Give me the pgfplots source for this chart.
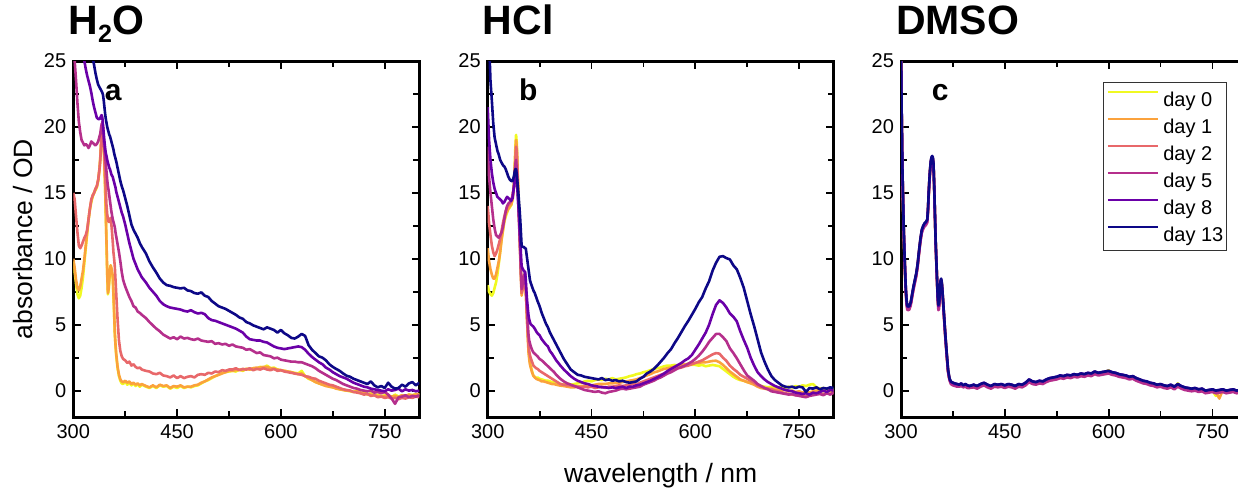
\documentclass[border=0pt]{standalone}
\usepackage{fontspec}
\setmainfont{Liberation Sans}
\usepackage{pgfplots}
\pgfplotsset{compat=1.18}
\usepackage{pgfplotstable}

\definecolor{c0}{HTML}{F0F921}
\definecolor{c1}{HTML}{FBA23C}
\definecolor{c2}{HTML}{E8686A}
\definecolor{c5}{HTML}{B52F8C}
\definecolor{c8}{HTML}{6A00A8}
\definecolor{c13}{HTML}{0D0887}

\pgfplotstableread{
x d0 d1 d2 d5 d8 d13
300 9.8 10.0 15.0 26.5 32 40
302 9.0 9.3 14.5 25.0 30.8 38.8
304 8.1 8.4 13.2 23.5 29.6 37.6
306 7.3 7.8 12.0 21.8 28.4 36.4
308 7.0 7.6 11.0 20.4 27.6 35.2
310 7.2 7.9 10.8 19.6 26.8 34.0
312 7.8 8.5 11.0 19.0 26.0 33.0
314 8.6 9.1 11.3 18.8 25.4 31.8
316 9.7 10.0 11.6 18.6 25.0 30.7
318 10.8 11.0 11.8 18.7 24.4 29.6
320 11.9 12.0 12.2 18.6 23.9 28.6
322 12.9 13.0 13.0 18.4 23.5 27.7
324 13.7 13.8 13.8 18.6 23.1 26.8
326 14.3 14.4 14.5 18.9 22.6 26.0
328 14.7 14.8 14.8 18.8 22.0 25.3
330 15.0 15.0 15.0 18.7 21.5 24.7
332 15.2 15.3 15.3 18.6 21.1 24.1
334 15.4 15.5 15.5 18.7 20.7 23.6
336 15.9 16.0 16.0 18.9 20.6 23.2
338 16.8 16.9 16.9 19.3 20.6 23.0
339 17.6 17.7 17.5 19.5 20.7 22.9
340 18.6 18.6 18.5 19.9 20.8 22.8
341 19.6 19.5 19.6 20.2 20.9 22.7
342 20.3 20.3 20.4 20.3 20.7 22.6
343 19.8 19.9 19.9 19.6 20.1 22.4
344 18.5 18.6 19.0 18.9 19.5 22.0
345 17.0 17.1 17.8 18.4 18.9 21.5
346 15.3 15.5 16.5 17.8 18.4 21.0
347 13.2 13.4 15.2 17.2 18.0 20.6
348 11.0 11.2 14.0 16.6 17.8 20.3
349 8.8 9.0 13.4 16.0 17.5 20.0
350 7.3 7.4 13.0 15.5 17.3 19.8
351 7.6 7.7 12.8 15.2 17.1 19.6
352 8.3 8.4 12.8 14.8 16.9 19.4
353 9.1 9.2 13.0 14.4 16.8 19.3
354 9.5 9.5 13.1 14.0 16.6 19.1
355 9.2 9.3 12.6 13.6 16.4 18.9
356 8.9 9.0 12.0 13.3 16.3 18.7
357 8.6 8.7 11.3 13.0 16.2 18.5
358 7.2 7.4 10.5 12.8 16.0 18.3
359 5.8 6.0 10.0 12.6 15.8 18.0
360 4.3 4.4 9.4 12.4 15.6 17.8
361 3.4 3.5 8.4 12.0 15.4 17.6
362 2.7 2.8 7.4 11.7 15.1 17.4
364 1.7 1.8 5.4 11.1 14.7 16.9
366 1.1 1.2 3.8 10.5 14.3 16.4
368 0.75 0.85 3.0 9.8 13.9 15.9
370 0.55 0.7 2.6 9.0 13.5 15.5
372 0.5 0.63 2.4 8.4 13.2 15.2
375 0.7 0.75 2.3 7.9 12.6 14.6
378 0.45 0.6 2.1 7.5 11.9 14.0
381 0.6 0.7 2.2 7.1 11.2 13.3
384 0.4 0.5 1.9 6.8 10.6 12.6
387 0.55 0.6 2.0 6.4 10.0 12.2
390 0.35 0.45 1.8 6.3 9.6 11.9
393 0.5 0.55 1.7 6.0 9.2 11.6
396 0.3 0.4 1.75 5.9 8.9 11.2
399 0.45 0.5 1.6 5.75 8.6 10.9
405 0.3 0.35 1.5 5.5 8.2 10.4
410 0.2 0.25 1.45 5.2 7.8 9.8
415 0.35 0.4 1.3 4.95 7.5 9.35
420 0.2 0.25 1.25 4.7 7.2 8.95
425 0.4 0.45 1.35 4.5 6.8 8.5
430 0.3 0.35 1.15 4.25 6.55 8.2
435 0.35 0.4 1.1 4.1 6.4 8.0
440 0.15 0.2 1.0 3.95 6.3 7.95
445 0.3 0.35 1.15 4.05 6.25 7.85
450 0.2 0.3 0.95 3.9 6.2 7.8
455 0.35 0.4 1.1 4.1 6.15 7.75
460 0.2 0.25 0.95 3.95 6.05 7.8
465 0.3 0.3 1.05 4.0 6.0 7.6
470 0.25 0.3 1.1 3.9 6.1 7.55
475 0.35 0.4 1.0 3.85 5.95 7.4
480 0.4 0.45 1.2 3.95 5.85 7.35
485 0.55 0.6 1.25 3.8 5.9 7.45
490 0.7 0.7 1.2 3.75 5.8 7.2
495 0.8 0.85 1.35 3.7 5.5 7.1
500 0.95 1.0 1.3 3.75 5.35 6.8
505 1.1 1.1 1.45 3.55 5.3 6.6
510 1.2 1.2 1.4 3.6 5.2 6.4
515 1.35 1.3 1.55 3.5 5.1 6.3
520 1.4 1.4 1.5 3.55 5.0 6.2
525 1.45 1.5 1.6 3.4 4.9 6.05
530 1.5 1.5 1.6 3.5 4.8 5.9
535 1.45 1.55 1.7 3.35 4.7 5.75
540 1.6 1.6 1.55 3.3 4.55 5.55
545 1.5 1.55 1.65 3.25 4.4 5.45
550 1.65 1.65 1.6 3.1 4.1 5.2
555 1.6 1.6 1.7 3.15 3.9 5.1
560 1.7 1.7 1.55 3.0 3.85 4.95
565 1.65 1.75 1.65 2.85 3.8 4.85
570 1.8 1.75 1.6 2.9 3.8 4.75
575 1.75 1.8 1.7 2.7 3.7 4.65
580 1.9 1.8 1.6 2.65 3.65 4.8
585 1.7 1.7 1.55 2.6 3.5 4.7
590 1.75 1.65 1.65 2.45 3.35 4.6
595 1.6 1.6 1.5 2.5 3.25 4.4
600 1.55 1.55 1.55 2.35 3.2 4.6
605 1.5 1.5 1.45 2.3 3.15 4.35
610 1.45 1.45 1.4 2.25 3.2 4.2
615 1.4 1.4 1.35 2.2 3.25 4.0
620 1.35 1.3 1.3 2.2 3.3 3.95
625 1.3 1.25 1.25 2.15 3.35 4.1
630 1.5 1.3 1.2 2.15 3.3 4.3
635 1.1 1.1 1.1 2.05 3.1 4.15
640 0.9 0.95 1.05 1.95 2.8 3.45
645 0.8 0.8 0.95 1.85 2.55 3.1
650 0.65 0.65 0.9 1.7 2.35 2.85
655 0.55 0.55 0.75 1.5 2.15 2.6
660 0.45 0.45 0.65 1.35 2.0 2.5
665 0.4 0.35 0.55 1.2 1.75 2.3
670 0.3 0.3 0.45 1.05 1.6 2.0
675 0.25 0.25 0.4 0.9 1.4 1.8
680 0.2 0.15 0.3 0.8 1.25 1.64
685 0.1 0.1 0.2 0.65 1.1 1.5
690 0.05 0.05 0.1 0.5 1.0 1.3
695 0.0 0.0 0.05 0.4 0.9 1.13
700 -0.05 0.0 0.0 0.3 0.75 1.05
705 -0.1 -0.1 -0.1 0.2 0.6 0.9
710 0.0 -0.05 -0.15 0.15 0.5 0.8
715 -0.2 -0.15 -0.2 0.05 0.4 0.7
720 -0.1 -0.2 -0.3 0.0 0.3 0.6
725 -0.3 -0.25 -0.25 -0.05 0.25 0.5
730 -0.2 -0.3 -0.4 0.0 0.15 0.7
735 -0.35 -0.35 -0.35 -0.15 0.1 0.4
740 -0.3 -0.4 -0.5 -0.1 0.05 0.25
745 -0.45 -0.4 -0.45 -0.2 0.0 0.35
750 -0.35 -0.45 -0.55 -0.1 -0.05 0.2
755 -0.4 -0.35 -0.5 -0.3 0.1 0.6
760 -0.5 -0.45 -0.6 -0.6 0.0 0.3
765 -0.3 -0.4 -0.55 -1.0 0.05 0.15
770 -0.45 -0.5 -0.65 -0.5 0.15 0.2
775 -0.35 -0.35 -0.55 -0.45 -0.05 0.45
780 -0.4 -0.45 -0.6 -0.35 0.1 0.3
785 -0.3 -0.3 -0.5 -0.5 0.0 0.55
790 -0.35 -0.35 -0.55 -0.4 0.05 0.65
795 -0.25 -0.3 -0.45 -0.45 -0.05 0.4
800 -0.3 -0.25 -0.5 -0.35 0.0 0.6
}\tabA

\pgfplotstableread{
x d0 d1 d2 d5 d8 d13
300 8.0 10.8 14.0 18.5 21.5 30.0
302 7.5 9.8 12.7 16.2 19.0 26.5
304 7.3 9.2 11.8 15.0 17.5 23.5
306 7.2 8.8 11.0 14.0 16.5 22.0
308 7.4 8.5 10.5 13.0 15.8 20.3
310 7.8 8.5 10.2 12.3 15.3 19.2
312 8.2 8.8 10.4 11.8 15.0 18.7
314 8.8 9.3 10.7 11.7 14.7 18.2
316 9.6 9.8 11.1 11.6 14.6 17.9
318 10.5 10.5 11.5 11.8 14.5 17.5
320 11.5 11.4 12.1 12.0 14.4 17.3
322 12.1 12.2 12.7 12.4 14.2 17.1
324 12.8 12.9 13.2 13.0 14.3 17.0
326 13.2 13.4 13.6 13.6 14.5 16.8
328 13.5 13.6 13.9 14.0 14.7 16.5
330 13.8 13.8 14.1 14.2 14.6 16.2
332 13.9 14.0 14.2 14.3 14.5 16.0
334 14.1 14.1 14.4 14.4 14.4 15.9
336 14.5 14.5 14.8 14.8 14.6 15.9
338 15.8 15.5 15.5 15.5 15.5 16.3
339 17.0 16.7 16.4 16.3 16.1 16.6
340 18.5 18.0 17.5 17.2 16.8 16.8
341 19.4 19.0 18.5 17.5 16.6 16.8
342 18.8 18.5 18.2 16.8 16.0 16.4
343 17.2 16.9 16.6 15.6 15.2 15.8
344 15.7 15.3 15.0 14.4 14.3 15.2
345 14.0 13.6 13.6 13.2 13.5 14.5
346 12.3 11.9 12.0 11.8 12.4 13.8
347 10.8 10.2 10.5 10.5 11.5 13.0
348 9.0 8.6 8.9 9.0 10.4 12.0
349 7.7 7.2 7.4 7.7 9.45 11.0
350 7.8 7.5 7.6 7.9 9.3 10.9
351 8.2 7.9 8.0 8.3 9.2 10.9
352 8.5 8.3 8.2 8.6 9.1 10.9
353 8.6 8.5 8.3 8.8 9.05 10.85
354 8.7 8.7 8.4 9.0 9.0 10.8
355 7.8 7.7 7.6 8.1 8.4 10.8
356 6.5 6.5 6.5 7.0 7.5 10.4
357 5.3 5.2 5.3 6.0 6.8 10.0
358 4.2 4.0 4.3 5.0 6.2 9.6
359 3.15 2.9 3.4 4.2 5.7 9.2
360 2.6 2.4 3.0 3.8 5.4 8.8
361 2.2 2.0 2.7 3.6 5.2 8.4
362 1.9 1.8 2.5 3.4 5.05 8.2
364 1.5 1.4 2.2 3.1 4.95 7.9
366 1.13 1.13 1.9 2.9 4.85 7.6
368 1.05 1.0 1.8 2.8 4.7 7.4
370 0.95 0.9 1.7 2.7 4.5 7.1
372 1.0 0.85 1.65 2.6 4.35 6.8
375 0.9 0.8 1.5 2.4 4.2 6.4
378 0.85 0.7 1.4 2.3 3.9 5.9
381 0.8 0.7 1.3 2.15 3.7 5.5
384 0.75 0.65 1.2 2.0 3.5 5.1
387 0.75 0.6 1.1 1.85 3.35 4.8
390 0.7 0.55 1.0 1.7 3.0 4.4
393 0.65 0.5 0.9 1.55 2.8 4.1
396 0.6 0.5 0.8 1.4 2.55 3.8
399 0.55 0.45 0.7 1.2 2.3 3.5
405 0.5 0.38 0.5 0.9 1.9 2.9
410 0.45 0.35 0.45 0.7 1.6 2.4
415 0.55 0.3 0.4 0.55 1.35 2.0
420 0.45 0.25 0.4 0.45 1.1 1.6
425 0.5 0.25 0.35 0.35 0.9 1.4
430 0.55 0.3 0.3 0.25 0.75 1.2
435 0.6 0.35 0.25 0.15 0.65 1.15
440 0.7 0.35 0.3 0.05 0.55 1.05
445 0.75 0.4 0.25 0.0 0.5 1.0
450 0.7 0.4 0.3 -0.05 0.4 0.95
455 0.8 0.45 0.2 -0.1 0.35 0.9
460 0.85 0.5 0.25 -0.05 0.3 0.85
465 0.8 0.5 0.3 -0.15 0.25 0.95
470 0.9 0.5 0.2 -0.2 0.25 0.8
475 0.85 0.55 0.3 -0.1 0.2 0.85
480 0.95 0.55 0.3 -0.05 0.25 0.75
485 0.85 0.6 0.35 0.0 0.2 0.8
490 0.9 0.6 0.4 0.1 0.25 0.7
495 0.95 0.65 0.35 0.15 0.3 0.75
500 1.0 0.7 0.4 0.1 0.2 0.65
505 1.1 0.75 0.45 0.15 0.3 0.6
510 1.15 0.8 0.5 0.2 0.3 0.65
515 1.25 0.85 0.45 0.25 0.4 0.7
520 1.3 0.95 0.6 0.3 0.45 0.9
525 1.4 1.05 0.7 0.45 0.55 1.05
530 1.45 1.15 0.8 0.55 0.65 1.3
535 1.55 1.25 0.9 0.65 0.75 1.45
540 1.65 1.38 1.0 0.75 0.88 1.64
545 1.7 1.45 1.1 0.9 1.0 1.9
550 1.75 1.55 1.2 1.0 1.15 2.2
555 1.85 1.65 1.3 1.15 1.3 2.5
560 1.9 1.7 1.4 1.3 1.5 2.85
565 1.9 1.76 1.5 1.4 1.65 3.15
570 1.95 1.8 1.6 1.55 1.8 3.6
575 1.9 1.9 1.7 1.7 1.95 4.0
580 2.0 1.95 1.75 1.8 2.1 4.45
585 1.95 2.0 1.85 1.9 2.3 4.9
590 2.05 2.0 1.9 2.05 2.45 5.3
595 1.95 2.05 2.0 2.2 2.7 5.75
600 1.95 2.1 2.1 2.4 3.1 6.2
605 1.9 2.1 2.2 2.65 3.5 6.7
610 1.95 2.15 2.3 2.95 3.95 7.1
615 1.85 2.15 2.45 3.3 4.4 7.75
620 1.9 2.2 2.6 3.7 5.0 8.3
625 1.95 2.25 2.75 4.0 5.8 9.1
630 1.9 2.27 2.85 4.3 6.5 9.7
635 1.85 2.15 2.8 4.3 6.85 10.15
640 1.65 1.95 2.5 4.05 6.65 10.2
645 1.45 1.7 2.25 3.75 6.3 10.05
650 1.25 1.45 1.9 3.2 5.85 9.95
655 1.05 1.25 1.65 2.85 5.6 9.5
660 0.9 1.05 1.45 2.45 5.25 9.2
665 0.8 0.85 1.2 2.0 4.5 8.55
670 0.75 0.75 1.05 1.55 3.85 7.8
675 0.65 0.65 0.9 1.15 3.25 6.8
680 0.6 0.55 0.75 0.95 2.5 5.8
685 0.5 0.45 0.6 0.75 1.9 4.9
690 0.4 0.3 0.4 0.5 1.4 3.9
695 0.35 0.2 0.3 0.35 1.1 2.9
700 0.3 0.15 0.2 0.2 0.85 2.2
705 0.25 0.1 0.15 0.1 0.65 1.6
710 0.3 0.15 0.1 -0.05 0.5 1.1
715 0.2 0.05 0.0 -0.1 0.35 0.8
720 0.25 0.1 -0.05 -0.15 0.25 0.6
725 0.3 0.0 -0.15 -0.2 0.15 0.4
730 0.2 0.05 -0.2 -0.25 0.05 0.3
735 0.3 -0.05 -0.25 -0.3 0.0 0.25
740 0.25 0.0 -0.3 -0.25 -0.05 0.3
745 0.35 -0.1 -0.35 -0.35 -0.15 0.2
750 0.3 -0.05 -0.3 -0.4 -0.2 0.3
755 0.4 -0.15 -0.45 -0.45 -0.25 0.25
760 0.35 -0.1 -0.4 -0.5 -0.2 -0.1
765 0.45 -0.15 -0.35 -0.4 -0.3 0.2
770 0.5 -0.05 -0.3 -0.35 -0.15 0.15
775 0.25 0.0 -0.25 -0.3 -0.2 0.25
780 0.15 0.05 -0.2 -0.25 -0.1 0.1
785 0.2 -0.05 -0.3 -0.35 0.0 0.2
790 0.1 0.0 -0.2 -0.2 -0.1 0.15
795 0.15 -0.05 -0.25 -0.3 0.05 0.25
800 0.1 0.0 -0.15 -0.15 0.0 0.2
}\tabB

\pgfplotstableread{
x d0 d1 d2 d5 d8 d13
300 25.5 25.5 25.4 25.3 25.5 25.5
301 20.8 20.9 20.8 20.6 21.0 21.0
302 16.8 16.9 16.8 16.6 17.0 17.0
303 14.3 14.4 14.3 14.1 14.5 14.5
304 12.0 12.1 12.0 11.8 12.2 12.2
305 10.3 10.4 10.3 10.1 10.5 10.5
306 8.8 8.9 8.8 8.6 9.0 9.0
307 7.5 7.6 7.5 7.3 7.7 7.7
308 6.7 6.8 6.7 6.5 6.9 6.9
309 6.3 6.35 6.3 6.15 6.4 6.45
310 6.25 6.3 6.25 6.1 6.35 6.4
312 6.3 6.3 6.25 6.15 6.4 6.4
314 6.6 6.6 6.55 6.45 6.65 6.7
316 7.2 7.2 7.15 7.05 7.25 7.3
318 7.8 7.8 7.75 7.65 7.85 7.9
320 8.3 8.3 8.25 8.15 8.35 8.4
322 8.8 8.8 8.75 8.65 8.85 8.9
324 9.5 9.5 9.45 9.35 9.55 9.6
326 10.5 10.5 10.45 10.35 10.55 10.6
328 11.4 11.4 11.35 11.25 11.45 11.5
330 12.1 12.1 12.05 11.95 12.15 12.2
332 12.4 12.4 12.35 12.25 12.45 12.5
334 12.6 12.6 12.55 12.45 12.65 12.7
336 12.7 12.7 12.65 12.55 12.75 12.8
338 12.9 12.9 12.85 12.75 12.95 13.0
339 13.7 13.7 13.65 13.55 13.75 13.8
340 14.9 14.9 14.85 14.75 14.95 15.0
341 15.9 15.9 15.85 15.75 15.95 16.0
342 16.7 16.7 16.65 16.55 16.75 16.8
343 17.3 17.3 17.25 17.15 17.35 17.4
344 17.6 17.6 17.55 17.45 17.65 17.7
345 17.7 17.7 17.65 17.55 17.75 17.8
346 17.6 17.6 17.55 17.45 17.65 17.7
347 17.1 17.1 17.05 16.95 17.15 17.2
348 15.4 15.4 15.35 15.25 15.45 15.5
349 13.4 13.4 13.35 13.25 13.45 13.5
350 11.4 11.4 11.35 11.25 11.45 11.5
351 9.9 9.9 9.85 9.75 9.95 10.0
352 8.5 8.5 8.45 8.35 8.55 8.6
353 7.1 7.1 7.05 6.95 7.15 7.2
354 6.3 6.35 6.3 6.1 6.4 6.5
355 6.4 6.45 6.4 6.2 6.5 6.6
356 7.3 7.3 7.25 7.15 7.35 7.4
357 8.2 8.2 8.15 8.05 8.25 8.3
358 8.4 8.4 8.35 8.25 8.45 8.5
359 8.1 8.1 8.05 7.95 8.15 8.2
360 7.4 7.4 7.35 7.25 7.45 7.5
361 6.6 6.6 6.55 6.45 6.65 6.7
362 5.8 5.8 5.75 5.65 5.85 5.9
364 4.2 4.2 4.15 4.05 4.25 4.3
366 2.8 2.8 2.75 2.65 2.85 2.9
368 1.5 1.5 1.45 1.4 1.55 1.6
370 0.85 0.9 0.85 0.8 0.9 0.95
372 0.6 0.65 0.6 0.5 0.65 0.7
375 0.5 0.55 0.5 0.4 0.6 0.6
378 0.45 0.5 0.45 0.35 0.5 0.55
381 0.4 0.45 0.4 0.3 0.5 0.5
384 0.35 0.4 0.35 0.3 0.45 0.45
387 0.45 0.5 0.45 0.35 0.55 0.55
390 0.3 0.35 0.3 0.25 0.4 0.4
393 0.4 0.45 0.4 0.3 0.5 0.5
396 0.3 0.35 0.3 0.2 0.4 0.4
399 0.25 0.3 0.25 0.2 0.35 0.35
405 0.35 0.4 0.35 0.25 0.45 0.45
410 0.25 0.3 0.25 0.15 0.35 0.35
415 0.4 0.45 0.4 0.3 0.5 0.5
420 0.5 0.55 0.45 0.4 0.6 0.6
425 0.35 0.4 0.35 0.25 0.45 0.45
430 0.25 0.3 0.25 0.15 0.35 0.35
435 0.4 0.45 0.4 0.3 0.5 0.5
440 0.35 0.4 0.35 0.25 0.45 0.45
445 0.4 0.45 0.4 0.3 0.5 0.5
450 0.3 0.35 0.3 0.2 0.4 0.4
455 0.4 0.45 0.4 0.3 0.5 0.5
460 0.35 0.4 0.35 0.25 0.45 0.45
465 0.25 0.3 0.25 0.15 0.35 0.35
470 0.4 0.45 0.4 0.3 0.5 0.5
475 0.35 0.4 0.35 0.25 0.45 0.45
480 0.5 0.55 0.5 0.4 0.6 0.6
485 0.75 0.8 0.75 0.65 0.85 0.85
490 0.6 0.65 0.6 0.5 0.7 0.7
495 0.55 0.6 0.55 0.45 0.65 0.65
500 0.65 0.7 0.65 0.55 0.75 0.75
505 0.6 0.65 0.6 0.5 0.7 0.7
510 0.75 0.8 0.75 0.65 0.85 0.85
515 0.85 0.9 0.85 0.75 0.95 0.95
520 0.9 0.95 0.9 0.8 1.0 1.0
525 0.95 1.0 0.95 0.85 1.05 1.05
530 1.05 1.1 1.05 0.95 1.15 1.15
535 1.0 1.05 1.0 0.9 1.1 1.1
540 1.1 1.15 1.1 1.0 1.2 1.2
545 1.05 1.1 1.05 0.95 1.15 1.15
550 1.15 1.2 1.15 1.05 1.25 1.25
555 1.1 1.15 1.1 1.0 1.2 1.2
560 1.2 1.25 1.2 1.1 1.3 1.3
565 1.15 1.2 1.15 1.05 1.25 1.25
570 1.25 1.3 1.25 1.15 1.35 1.35
575 1.2 1.25 1.2 1.1 1.3 1.3
580 1.35 1.4 1.35 1.25 1.45 1.45
585 1.25 1.3 1.25 1.15 1.35 1.35
590 1.3 1.35 1.3 1.2 1.4 1.4
595 1.4 1.4 1.35 1.25 1.45 1.45
600 1.55 1.45 1.4 1.3 1.5 1.5
605 1.3 1.35 1.3 1.2 1.4 1.4
610 1.25 1.3 1.25 1.15 1.35 1.35
615 1.15 1.2 1.15 1.05 1.25 1.25
620 1.1 1.15 1.1 1.0 1.2 1.2
625 1.05 1.1 1.05 0.95 1.15 1.15
630 0.95 1.0 0.95 0.85 1.05 1.05
635 1.0 1.05 1.0 0.9 1.1 1.1
640 0.85 0.9 0.85 0.75 0.95 0.95
645 0.75 0.8 0.75 0.65 0.85 0.85
650 0.65 0.7 0.65 0.55 0.75 0.75
655 0.6 0.65 0.6 0.5 0.7 0.7
660 0.5 0.55 0.5 0.4 0.6 0.6
665 0.45 0.5 0.45 0.35 0.55 0.55
670 0.35 0.4 0.35 0.25 0.45 0.45
675 0.4 0.45 0.4 0.3 0.5 0.5
680 0.3 0.35 0.3 0.2 0.4 0.4
685 0.25 0.3 0.25 0.15 0.35 0.35
690 0.35 0.4 0.35 0.25 0.45 0.45
695 0.2 0.25 0.2 0.1 0.3 0.3
700 0.55 0.45 0.4 0.3 0.5 0.5
705 0.25 0.3 0.25 0.15 0.35 0.35
710 0.15 0.2 0.15 0.05 0.25 0.25
715 0.1 0.15 0.1 0.0 0.2 0.2
720 0.05 0.1 0.05 -0.05 0.15 0.15
725 0.1 0.15 0.1 0.0 0.2 0.2
730 0.0 0.05 0.0 -0.1 0.1 0.1
735 0.05 0.1 0.05 -0.05 0.15 0.15
740 -0.1 -0.05 -0.1 -0.2 0.0 0.0
745 -0.05 0.0 -0.05 -0.15 0.05 0.05
750 0.0 0.05 0.0 -0.1 0.1 0.1
755 -0.4 -0.1 -0.1 -0.2 0.0 0.0
760 -0.05 -0.6 -0.05 -0.15 0.05 0.05
765 0.0 0.05 0.0 -0.1 0.1 0.1
770 -0.1 -0.05 -0.1 -0.2 0.0 0.0
775 -0.05 0.0 -0.05 -0.15 0.05 0.05
780 0.0 0.05 0.0 -0.1 0.1 0.1
785 -0.1 -0.05 -0.1 -0.2 0.0 0.0
790 -0.05 0.0 -0.05 -0.15 0.05 0.05
795 0.0 0.05 0.0 -0.1 0.1 0.1
800 -0.05 0.0 -0.05 -0.15 0.05 0.05
}\tabC

\pgfplotsset{
  panel/.style={
    scale only axis, width=173pt, height=178pt,
    anchor=south west,
    xmin=300, xmax=800, ymin=-2, ymax=25,
    xtick={300,450,600,750}, ytick={0,5,10,15,20,25},
    minor x tick num=1, minor y tick num=1,
    tick align=inside, major tick length=3.8pt, minor tick length=3pt,
    axis line style={line width=1.5pt},
    every tick/.style={black, line width=0.9pt},
    tick label style={font=\fontsize{10}{12}\selectfont},
    /pgf/number format/assume math mode=true,
    every axis plot/.append style={line width=1.3pt, line join=round},
    title style={at={(0,1)}, anchor=base west, yshift=7.2pt, xshift=-2.6pt,
      inner sep=0pt, font=\bfseries\fontsize{20.5}{24}\selectfont},
    label style={font=\fontsize{13.25}{15}\selectfont},
  },
}
\tikzset{letter/.style={anchor=base west, inner sep=0pt, font=\bfseries\fontsize{15}{18}\selectfont}}

\begin{document}
\begin{tikzpicture}
\begin{axis}[panel, at={(36.65pt,35.5pt)},
  title={H\raisebox{-4pt}{\fontsize{12.5}{13}\selectfont 2}O},
  ylabel={absorbance / OD},
  ylabel style={at={(axis description cs:-0.118,0.5)}, anchor=base},
]
\addplot[c0] table[x=x,y=d0]{\tabA};
\addplot[c1] table[x=x,y=d1]{\tabA};
\addplot[c2] table[x=x,y=d2]{\tabA};
\addplot[c5] table[x=x,y=d5]{\tabA};
\addplot[c8] table[x=x,y=d8]{\tabA};
\addplot[c13] table[x=x,y=d13]{\tabA};
\node[letter] at (axis cs:345,22) {a};
\end{axis}

\begin{axis}[panel, at={(243.85pt,35.5pt)},
  title={HCl},
  xlabel={wavelength / nm},
  xlabel style={at={(axis description cs:0.5,-0.183)}, anchor=base},
]
\addplot[c0] table[x=x,y=d0]{\tabB};
\addplot[c1] table[x=x,y=d1]{\tabB};
\addplot[c2] table[x=x,y=d2]{\tabB};
\addplot[c5] table[x=x,y=d5]{\tabB};
\addplot[c8] table[x=x,y=d8]{\tabB};
\addplot[c13] table[x=x,y=d13]{\tabB};
\node[letter] at (axis cs:345,22) {b};
\end{axis}

\begin{axis}[panel, at={(450.5pt,35.5pt)},
  title={DMSO},
  legend style={at={(0.942,0.941)}, anchor=north east, draw=black!80, line width=0.6pt,
    font=\fontsize{10}{12}\selectfont, inner xsep=1.5pt, inner ysep=3.75pt,
    row sep=4.5pt, column sep=2pt,
    nodes={inner sep=0pt, text height=8pt, text depth=1pt}},
  legend cell align=left,
  legend image code/.code={\draw[#1, line width=1.3pt] (0pt,3.5pt) -- (25pt,3.5pt);},
]
\addplot[c0] table[x=x,y=d0]{\tabC};
\addplot[c1] table[x=x,y=d1]{\tabC};
\addplot[c2] table[x=x,y=d2]{\tabC};
\addplot[c5] table[x=x,y=d5]{\tabC};
\addplot[c8] table[x=x,y=d8]{\tabC};
\addplot[c13] table[x=x,y=d13]{\tabC};
\node[letter] at (axis cs:344,22) {c};
\legend{day 0, day 1, day 2, day 5, day 8, day 13}
\end{axis}
\pgfresetboundingbox
\path (0pt,0pt) rectangle (619pt,244pt);
\end{tikzpicture}
\end{document}
